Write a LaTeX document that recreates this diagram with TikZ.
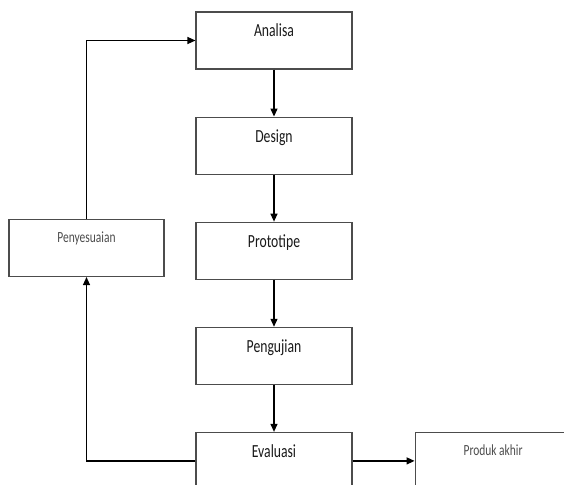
\documentclass[tikz,border=0pt]{standalone}
\usepackage{fontspec}
\setmainfont{Carlito}[FakeStretch=0.74]
\usetikzlibrary{positioning, arrows.meta}

\begin{document}
\begin{tikzpicture}
    [
        x=1pt, y=1pt,
        basic/.style = {draw=black!70, line width=1.1pt, text centered, inner sep=0pt, minimum width=156pt, minimum height=57pt},
        rect/.style = {basic, font=\fontsize{18.5}{20}\selectfont, text=black!90, text height=25pt, text depth=32pt},
        rectsmall/.style = {basic, font=\fontsize{15.5}{17}\selectfont, text=black!70, text height=23pt, text depth=34pt},
        node distance=47pt,
        >={Triangle[length=8pt, width=7pt]}
    ]
    \path [use as bounding box, clip] (0,0) rectangle (564,-484);

    \node [rect] (analisa) at (274,-40.5) {Analisa};
    \node [rect, below=of analisa] (design) {Design};
    \node [rect, below=of design] (prototipe) {Prototipe};
    \node [rect, below=of prototipe] (pengujian) {Pengujian};
    \node [rect, below=of pengujian] (evaluasi) {Evaluasi};

    \node [rectsmall, right=62pt of evaluasi] (produk) {Produk akhir};
    \node [rectsmall, minimum width=155pt] (penyesuaian) at (86.5,-248) {Penyesuaian};

    \draw [->, line width=1.2pt] (analisa) -- (design);
    \draw [->, line width=1.2pt] (design) -- (prototipe);
    \draw [->, line width=1.2pt] (prototipe) -- (pengujian);
    \draw [->, line width=1.2pt] (pengujian) -- (evaluasi);
    \draw [->, line width=1.2pt] (evaluasi) -- (produk);

    \draw [->, line width=1.2pt] (evaluasi.west) -| (penyesuaian.south);
    \draw [->, line width=1.2pt] (penyesuaian.north) |- (analisa.west);

\end{tikzpicture}
\end{document}
